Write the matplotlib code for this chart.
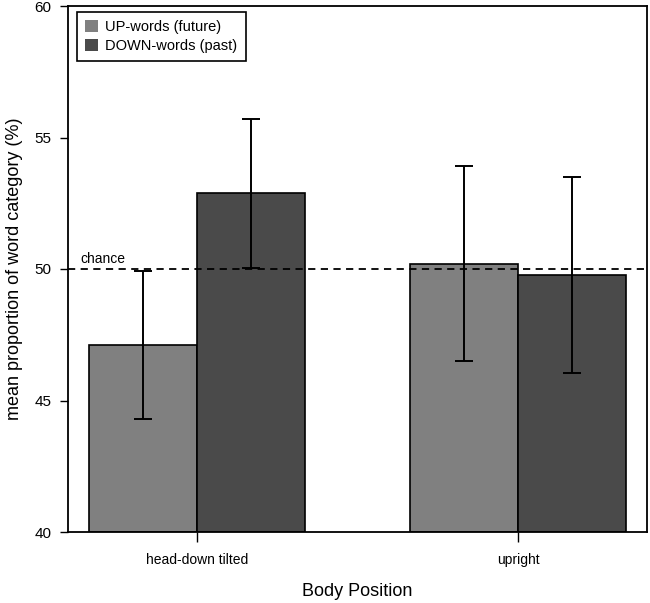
import matplotlib
matplotlib.use("Agg")
import matplotlib.pyplot as plt
import numpy as np

plt.rcParams['font.family'] = ['Liberation Sans', 'DejaVu Sans']

positions = ["head-down tilted", "upright"]
series_names = ["UP-words (future)", "DOWN-words (past)"]
up_means = [47.1, 50.2]
up_err = [2.81, 3.71]
down_means = [52.88, 49.77]
down_err = [2.83, 3.71]
colors = ["#808080", "#4a4a4a"]
chance = 50
yticks = [40, 45, 50, 55, 60]

fig = plt.figure(figsize=(6.5, 6.03), dpi=100)
ax = fig.add_axes([68/650, 1-532/603, (647-68)/650, (532-6)/603])

x = np.arange(len(positions))
w = 0.336
base = 40
for i, (means, errs, col, name) in enumerate(zip([up_means, down_means], [up_err, down_err], colors, series_names)):
    xs = x - w/2 + i*w
    heights = [m - base for m in means]
    ax.bar(xs, heights, width=w, bottom=base, color=col, edgecolor='black', linewidth=1.2, label=name, zorder=2)
    ax.errorbar(xs, means, yerr=errs, fmt='none', ecolor='black', elinewidth=1.4, capsize=6.5, capthick=1.4, zorder=4)

ax.axhline(chance, color='black', linestyle=(0, (4, 3)), linewidth=1.3, zorder=3)
ax.text(-0.365, chance + 0.12, "chance", fontsize=10, ha='left', va='bottom')

ax.set_xlim(-0.402, 1.402)
ax.set_ylim(40, 60)
ax.set_yticks(yticks)
ax.set_xticks(x)
ax.set_xticklabels(positions, fontsize=10)
ax.tick_params(axis='y', labelsize=11, length=6, width=1, pad=6)
ax.tick_params(axis='x', length=7, width=1, pad=8)
for s in ax.spines.values():
    s.set_linewidth(1.3)
ax.set_ylabel("mean proportion of word category (%)", fontsize=13, labelpad=8)
ax.set_xlabel("Body Position", fontsize=13, labelpad=12)

leg = ax.legend(loc='upper left', fontsize=10.5, fancybox=False, edgecolor='black',
                framealpha=1, handlelength=0.9, handleheight=0.9, handletextpad=0.5,
                borderpad=0.55, labelspacing=0.35, borderaxespad=0,
                bbox_to_anchor=(0.0155, 0.9886))
leg.get_frame().set_linewidth(1.2)
for h in leg.legend_handles:
    h.set_edgecolor('none')

fig.savefig("out.png", dpi=100)
